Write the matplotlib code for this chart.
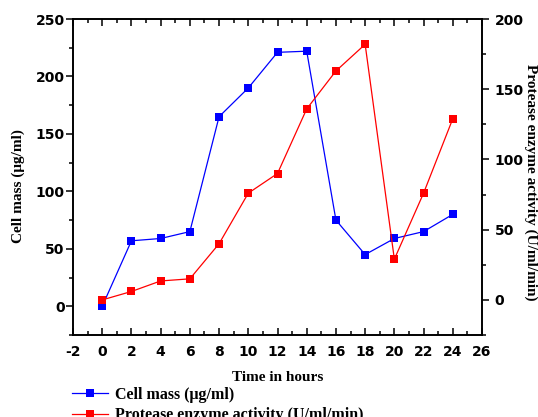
import matplotlib
matplotlib.use("Agg")
import matplotlib.pyplot as plt
from matplotlib.ticker import MultipleLocator

plt.rcParams["axes.unicode_minus"] = False

hours = [0, 2, 4, 6, 8, 10, 12, 14, 16, 18, 20, 22, 24]
cell_mass = [0, 57, 59, 65, 165, 190, 221, 222, 75, 45, 59, 65, 80]
protease = [0, 6, 13.5, 15, 40, 76, 90, 136, 163, 182, 29, 76, 129]

x_ticks = [-2, 0, 2, 4, 6, 8, 10, 12, 14, 16, 18, 20, 22, 24, 26]
left_ticks = [0, 50, 100, 150, 200, 250]
right_ticks = [0, 50, 100, 150, 200]

label_font = {"family": "Liberation Serif", "weight": "bold", "size": 11}
tick_font = {"family": "DejaVu Sans", "weight": "bold", "size": 10}

fig = plt.figure(figsize=(5.38, 4.17), dpi=100)
ax = fig.add_axes([0.1357, 0.1966, 0.7602, 0.7578])
ax2 = ax.twinx()

l1, = ax.plot(hours, cell_mass, color="#0000ff", marker="s", markersize=6,
              linewidth=0.9, markeredgewidth=0)
l2, = ax2.plot(hours, protease, color="#ff0000", marker="s", markersize=6,
               linewidth=0.9, markeredgewidth=0)

ax.set_xlim(-2, 26)
ax.set_ylim(-25, 250)
ax2.set_ylim(-25, 200)

ax.set_xticks(x_ticks)
ax.set_yticks(left_ticks)
ax2.set_yticks(right_ticks)
ax.xaxis.set_minor_locator(MultipleLocator(1))
ax.yaxis.set_minor_locator(MultipleLocator(25))
ax2.yaxis.set_minor_locator(MultipleLocator(25))

for a in (ax, ax2):
    for s in a.spines.values():
        s.set_linewidth(1.2)

ax.tick_params(axis="x", which="both", direction="in", top=True, width=1.1)
ax.tick_params(axis="x", which="major", length=5, pad=7)
ax.tick_params(axis="x", which="minor", length=3)
ax.tick_params(axis="y", which="both", direction="out", width=1.1)
ax.tick_params(axis="y", which="major", length=5, pad=1)
ax.tick_params(axis="y", which="minor", length=3)
ax2.tick_params(axis="y", which="both", direction="out", width=1.1)
ax2.tick_params(axis="y", which="major", length=5, pad=4)
ax2.tick_params(axis="y", which="minor", length=3)

for lab in ax.get_xticklabels() + ax.get_yticklabels() + ax2.get_yticklabels():
    lab.set_fontfamily(tick_font["family"])
    lab.set_fontweight(tick_font["weight"])
    lab.set_fontsize(tick_font["size"])

ax.set_xlabel("Time in hours", fontdict=label_font, va="center", ha="center")
ax.xaxis.set_label_coords(0.5, -0.133)
ax.set_ylabel("Cell mass (\u03bcg/ml)", fontdict=label_font, va="center", ha="center")
ax.yaxis.set_label_coords(-0.1345, 0.472)
ax2.set_ylabel("Protease enzyme activity (U/ml/min)", fontdict=label_font,
               rotation=-90, va="center", ha="center")
ax2.yaxis.set_label_coords(1.12, 0.484)

fig.legend([l1, l2], ["Cell mass (\u03bcg/ml)", "Protease enzyme activity (U/ml/min)"],
           loc="upper left", bbox_to_anchor=(0.133, 0.073), frameon=False,
           prop={"family": "Liberation Serif", "weight": "bold", "size": 11.5},
           handlelength=2.3, handletextpad=0.4, labelspacing=0.3,
           borderaxespad=0, borderpad=0)

fig.savefig("out.png", dpi=100)
